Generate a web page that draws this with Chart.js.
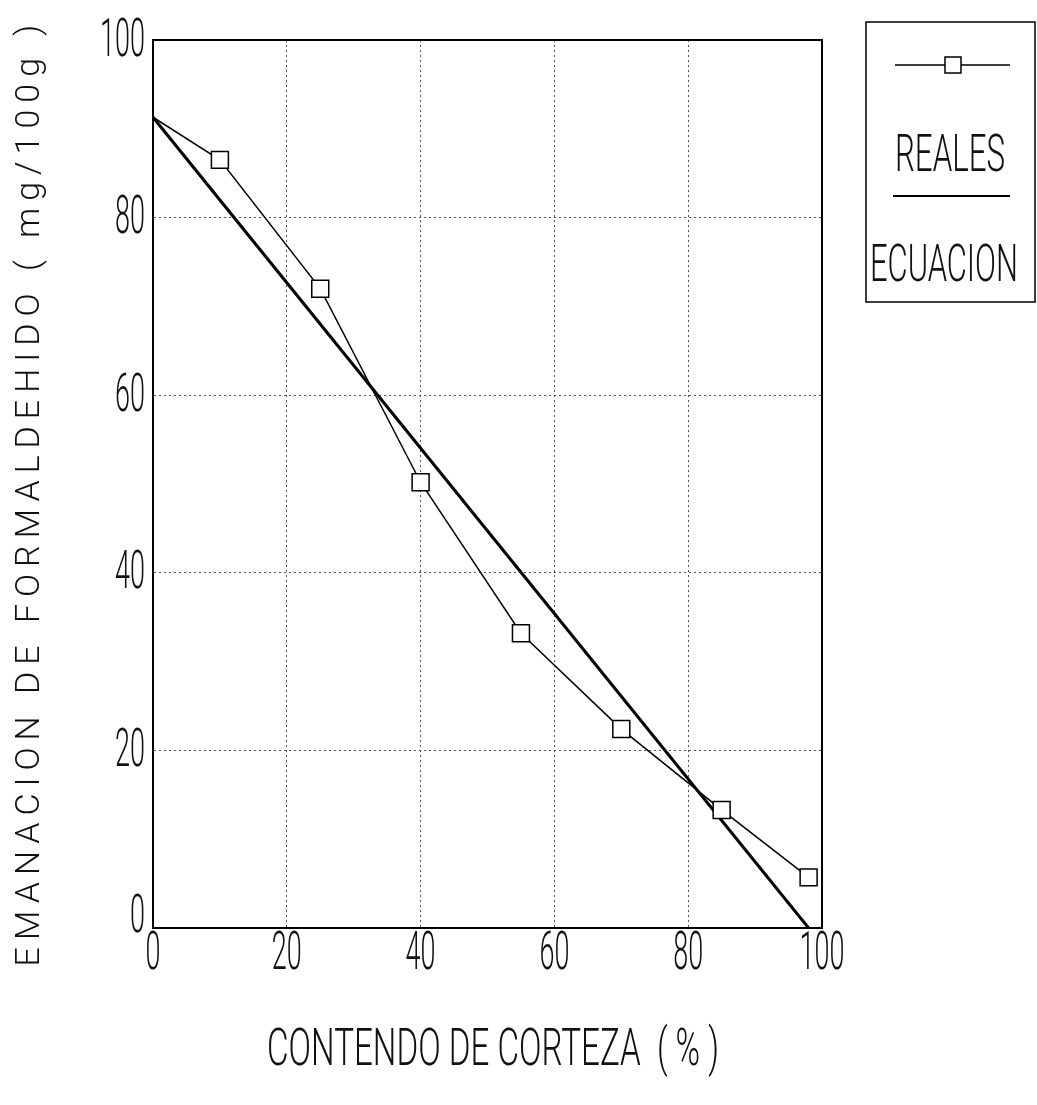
<!DOCTYPE html>
<html>
<head>
<meta charset="utf-8">
<script src="https://cdn.jsdelivr.net/npm/chart.js@4.4.1/dist/chart.umd.min.js"></script>
<style>
body { margin: 0; background: #fff; }
#wrap { width: 1037px; height: 1105px; }
</style>
</head>
<body>
<div id="wrap"><canvas id="graph"></canvas></div>
<script>
// datos
var corteza = [0, 10, 25, 40, 55, 70, 85, 98];
var reales = [91.3, 86.5, 72, 50.2, 33.2, 22.4, 13.3, 5.7];
var ecuacionX = [0, 98];
var ecuacionY = [91.3, 0];
var xTicks = [0, 20, 40, 60, 80, 100];
var yTicks = [0, 20, 40, 60, 80, 100];
var seriesNames = ["REALES", "ECUACION"];
var xTitle = "CONTENDO DE CORTEZA  ( % )";
var yTitle = "EMANACION DE FORMALDEHIDO ( mg/100g )";

var thin = 'Roboto, "Liberation Sans", sans-serif';

var realPts = [];
for (var i = 0; i < corteza.length; i++) {
	realPts.push({ x: corteza[i], y: reales[i] });
}
var ecPts = [];
for (var j = 0; j < ecuacionX.length; j++) {
	ecPts.push({ x: ecuacionX[j], y: ecuacionY[j] });
}
var radii = corteza.map(function (c) { return c === 0 ? 0 : 12; });

// texto angosto: se comprime en horizontal
function narrowText(c, text, x, y, size, sx, align) {
	c.save();
	c.font = "300 " + size + "px " + thin;
	c.textAlign = align;
	c.textBaseline = "middle";
	c.fillStyle = "#111";
	c.scale(sx, 1);
	c.fillText(text, x / sx, y);
	c.restore();
}

function fitText(c, text, cx, y, size, w) {
	c.save();
	c.font = "300 " + size + "px " + thin;
	var sx = w / c.measureText(text).width;
	c.restore();
	narrowText(c, text, cx, y, size, sx, "center");
}

// marco, etiquetas, titulos y leyenda
var extras = {
	id: "extras",
	afterDraw: function (chart) {
		var c = chart.ctx, a = chart.chartArea;
		var xs = chart.scales.x, ys = chart.scales.y;
		c.save();
		c.strokeStyle = "#000";
		c.lineWidth = 2;
		c.strokeRect(a.left, a.top, a.right - a.left, a.bottom - a.top);

		xTicks.forEach(function (v) {
			narrowText(c, String(v), xs.getPixelForValue(v), 955, 54, 0.5, "center");
		});
		yTicks.forEach(function (v) {
			var py = ys.getPixelForValue(v);
			if (v === 0) py -= 12;
			narrowText(c, String(v), 145, py + 2, 54, 0.5, "right");
		});

		fitText(c, xTitle, 493, 1052, 52, 452);

		c.save();
		c.translate(30, 492);
		c.rotate(-Math.PI / 2);
		c.fillStyle = "#111";
		c.textAlign = "center";
		c.textBaseline = "middle";
		c.font = "300 34px " + thin;
		c.letterSpacing = "7px";
		c.fillText(yTitle, 0, 0);
		c.restore();

		// leyenda
		c.lineWidth = 1.5;
		c.strokeRect(866, 22, 169, 280);
		c.beginPath();
		c.moveTo(895, 65); c.lineTo(1010, 65);
		c.stroke();
		c.fillStyle = "#fff";
		c.fillRect(945, 57, 16, 16);
		c.strokeRect(945, 57, 16, 16);
		c.beginPath();
		c.lineWidth = 2;
		c.moveTo(893, 196); c.lineTo(1010, 196);
		c.stroke();
		fitText(c, seriesNames[0], 950, 158, 52, 110);
		fitText(c, seriesNames[1], 944, 268, 52, 148);
		c.restore();
	}
};

var chart = new Chart(document.getElementById("graph").getContext("2d"), {
	type: "scatter",
	data: {
		datasets: [{
			label: seriesNames[0],
			data: realPts,
			showLine: true,
			borderColor: "#000",
			borderWidth: 1.5,
			pointStyle: "rect",
			pointRadius: radii,
			pointBackgroundColor: "#fff",
			pointBorderColor: "#000",
			pointBorderWidth: 1.5
		}, {
			label: seriesNames[1],
			data: ecPts,
			showLine: true,
			borderColor: "#000",
			borderWidth: 3,
			pointRadius: 0
		}]
	},
	options: {
		responsive: true,
		maintainAspectRatio: false,
		animation: false,
		layout: { padding: { left: 0, top: 40, right: 215, bottom: 0 } },
		plugins: { legend: { display: false }, tooltip: { enabled: false } },
		scales: {
			x: {
				type: "linear",
				min: 0, max: 100,
				afterBuildTicks: function (s) { s.ticks = xTicks.map(function (v) { return { value: v }; }); },
				afterFit: function (s) { s.height = 177; },
				grid: { color: "#555", lineWidth: 1, drawTicks: false },
				border: { display: true, color: "#000", width: 2, dash: [2, 3] },
				ticks: { display: false }
			},
			y: {
				type: "linear",
				min: 0, max: 100,
				afterBuildTicks: function (s) { s.ticks = yTicks.map(function (v) { return { value: v }; }); },
				afterFit: function (s) { s.width = 153; },
				grid: { color: "#555", lineWidth: 1, drawTicks: false },
				border: { display: true, color: "#000", width: 2, dash: [2, 3] },
				ticks: { display: false }
			}
		}
	},
	plugins: [extras]
});
</script>
</body>
</html>
